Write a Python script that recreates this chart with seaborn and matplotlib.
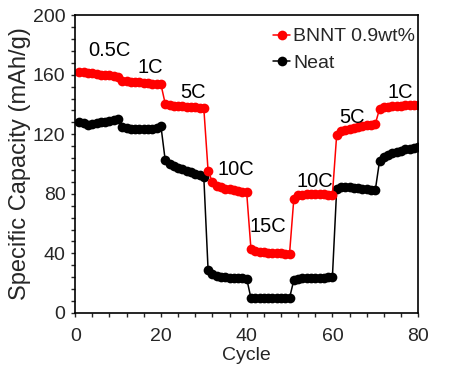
import numpy as np
import pandas as pd
import matplotlib
matplotlib.use("Agg")
import matplotlib.pyplot as plt
from matplotlib.ticker import MultipleLocator
import seaborn as sns

# capacity per cycle (mAh/g)
cycles = list(range(1, 81))
bnnt = [162, 161.5, 161, 160.8, 160.5, 160, 159.8, 159.5, 159, 158.6,
        156, 155.6, 155.3, 155, 154.8, 154.5, 154.3, 154, 153.8, 153.5,
        140.5, 139.8, 139.3, 139, 138.7, 138.4, 138.2, 138, 137.8, 137.6,
        95.5, 88, 85.5, 84.5, 83.5, 83, 82.5, 82, 81.5, 81,
        43, 41.5, 41, 40.7, 40.5, 40.3, 40.1, 40, 39.8, 39.6,
        76.5, 79, 79.5, 79.8, 80, 80, 79.8, 79.6, 79.4, 79.2,
        119.5, 122, 123, 123.8, 124.5, 125, 125.5, 126, 126.3, 126.8,
        137, 138, 138.5, 138.8, 139, 139.2, 139.4, 139.5, 139.6, 139.7]
neat = [128.5, 127.5, 126.5, 126.8, 127.5, 128, 128.5, 129, 129.3, 130,
        125, 124, 123.5, 123.3, 123.2, 123.2, 123.3, 123.5, 124, 125.5,
        102.5, 100, 98.5, 97.5, 96.5, 95.5, 94.5, 93.5, 92.5, 91.5,
        29, 26, 25, 24.3, 24, 23.7, 23.5, 23.3, 23.2, 23,
        10, 10, 10, 10, 10, 10, 10, 10, 10, 10,
        22, 23, 23.2, 23.4, 23.5, 23.5, 23.6, 23.7, 23.8, 24,
        83, 84.5, 84.5, 84.3, 84, 83.7, 83.3, 83, 82.7, 82.3,
        102, 104.5, 106, 107.2, 108.2, 109, 109.8, 110.4, 110.9, 111.5]

rate_labels = ["0.5C", "1C", "5C", "10C", "15C", "10C", "5C", "1C"]
rate_x = [8, 17.5, 27.5, 37.5, 45, 56, 64.5, 75.8]
rate_y = [176, 165, 148, 96, 58, 88, 131, 148]

df = pd.DataFrame({
    "Cycle": cycles * 2,
    "Capacity": neat + bnnt,
    "Sample": ["Neat"] * 80 + ["BNNT 0.9wt%"] * 80,
})

sns.set_style("white")
plt.rcParams["font.family"] = ["Liberation Sans", "DejaVu Sans"]

fig = plt.figure(figsize=(4.53, 3.69), dpi=100)
ax = fig.add_axes([0.166, 0.152, 0.757, 0.807])

sns.lineplot(data=df, x="Cycle", y="Capacity", hue="Sample",
             palette={"Neat": "black", "BNNT 0.9wt%": "red"},
             marker="o", markersize=7, markeredgewidth=0, linewidth=1.1,
             ax=ax, legend=True)

for lab, xx, yy in zip(rate_labels, rate_x, rate_y):
    ax.text(xx, yy, lab, fontsize=14.5, ha="center", va="center", color="black")

ax.set_xlim(0, 80)
ax.set_ylim(0, 200)
ax.xaxis.set_major_locator(MultipleLocator(20))
ax.xaxis.set_minor_locator(MultipleLocator(4))
ax.yaxis.set_major_locator(MultipleLocator(40))
ax.yaxis.set_minor_locator(MultipleLocator(8))
ax.tick_params(which="both", direction="out", length=3, width=1,
               bottom=True, left=True, top=False, right=False)
ax.tick_params(labelsize=14)
ax.tick_params(axis="x", pad=8)
ax.tick_params(axis="y", pad=4)
for s in ax.spines.values():
    s.set_linewidth(1.2)
    s.set_color("black")
ax.set_xlabel("Cycle", fontsize=14, labelpad=1)
ax.set_ylabel("Specific Capacity (mAh/g)", fontsize=17, labelpad=1)

h, l = ax.get_legend_handles_labels()
order = [l.index("BNNT 0.9wt%"), l.index("Neat")]
ax.legend([h[i] for i in order], [l[i] for i in order], loc="upper right",
          bbox_to_anchor=(1.02, 0.99), frameon=False, fontsize=14,
          handlelength=0.9, handletextpad=0.15, labelspacing=0.45,
          borderaxespad=0.1)

fig.savefig("out.png", dpi=100)
